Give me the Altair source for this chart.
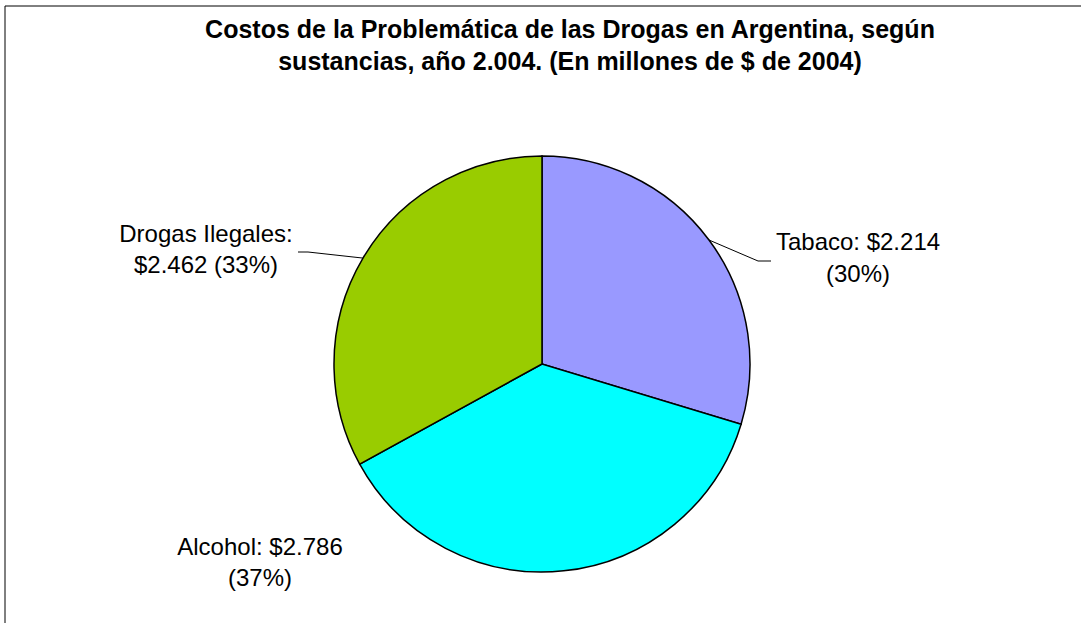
import math
import altair as alt
import pandas as pd

categories = ["Tabaco", "Alcohol", "Drogas Ilegales"]
values = [2214, 2786, 2462]
colors = ["#9999FF", "#00FFFF", "#99CC00"]
title_lines = [
    "Costos de la Problemática de las Drogas en Argentina, según",
    "sustancias, año 2.004. (En millones de $ de 2004)",
]

total = sum(values)
pcts = [round(v / total * 100) for v in values]
fmt = lambda v: f"${v:,}".replace(",", ".")
label_lines = {
    "Tabaco": [f"Tabaco: {fmt(values[0])}", f"({pcts[0]}%)"],
    "Alcohol": [f"Alcohol: {fmt(values[1])}", f"({pcts[1]}%)"],
    "Drogas Ilegales": ["Drogas Ilegales:", f"{fmt(values[2])} ({pcts[2]}%)"],
}

df = pd.DataFrame({"cat": categories, "value": values, "order": range(len(values))})

# layout (view coordinates; view starts at page (OX, OY))
OX, OY = 5, 6
W, H = 1081 - OX, 623 - OY
CX, CY, R = 542 - OX, 364 - OY, 208

label_pos = {
    "Tabaco": [(858, 243), (858, 275)],
    "Alcohol": [(260, 548), (260, 579)],
    "Drogas Ilegales": [(206, 235), (206, 266)],
}
rows = []
for c in categories:
    for t, (px, py) in zip(label_lines[c], label_pos[c]):
        rows.append({"text": t, "x": px - OX, "y": py - OY})
labels_df = pd.DataFrame(rows)

cum = 0
mids = {}
for c, v in zip(categories, values):
    mids[c] = (cum + v / 2) / total * 2 * math.pi
    cum += v
def rim(c):
    a = mids[c]
    return CX + R * math.sin(a), CY - R * math.cos(a)

leader_rows = []
tx, ty = rim("Tabaco")
leader_rows.append({"x": tx, "y": ty, "x2": 758 - OX, "y2": 261 - OY})
leader_rows.append({"x": 758 - OX, "y": 261 - OY, "x2": 771 - OX, "y2": 261 - OY})
dx_, dy_ = rim("Drogas Ilegales")
leader_rows.append({"x": dx_, "y": dy_, "x2": 308 - OX, "y2": 252 - OY})
leader_rows.append({"x": 308 - OX, "y": 252 - OY, "x2": 298 - OX, "y2": 252 - OY})
# frame: top and left edges (right/bottom fall outside the picture)
leader_rows.append({"x": 0, "y": 0, "x2": W, "y2": 0})
leader_rows.append({"x": 0, "y": 0, "x2": 0, "y2": H})
leader_df = pd.DataFrame(leader_rows)

pie = alt.Chart(df).mark_arc(outerRadius=R, stroke="black", strokeWidth=1.5).encode(
    theta=alt.Theta("value:Q", stack=True),
    order=alt.Order("order:Q"),
    color=alt.Color("cat:N", scale=alt.Scale(domain=categories, range=colors), legend=None),
    x=alt.value(CX),
    y=alt.value(CY),
)

leaders = alt.Chart(leader_df).mark_rule(color="black", strokeWidth=1).encode(
    x=alt.X("x:Q", scale=None),
    y=alt.Y("y:Q", scale=None),
    x2="x2:Q",
    y2="y2:Q",
)

labels = alt.Chart(labels_df).mark_text(
    font="Liberation Sans", fontSize=24, color="black", baseline="middle", align="center"
).encode(
    x=alt.X("x:Q", scale=None),
    y=alt.Y("y:Q", scale=None),
    text="text:N",
)

title_df = pd.DataFrame({"text": title_lines, "x": [570 - OX, 570 - OX], "y": [30 - OY, 62 - OY]})
title = alt.Chart(title_df).mark_text(
    font="Liberation Sans", fontSize=25, fontWeight="bold", color="black", baseline="middle", align="center"
).encode(
    x=alt.X("x:Q", scale=None),
    y=alt.Y("y:Q", scale=None),
    text="text:N",
)

chart = alt.layer(pie, leaders, labels, title).properties(
    width=W,
    height=H,
    padding={"left": OX, "top": OY, "right": 0, "bottom": 0},
    autosize=alt.AutoSizeParams(type="none"),
    background="white",
).configure_view(stroke=None, strokeWidth=0)

chart.save("out.html", embed_options={"renderer": "svg", "actions": False})
